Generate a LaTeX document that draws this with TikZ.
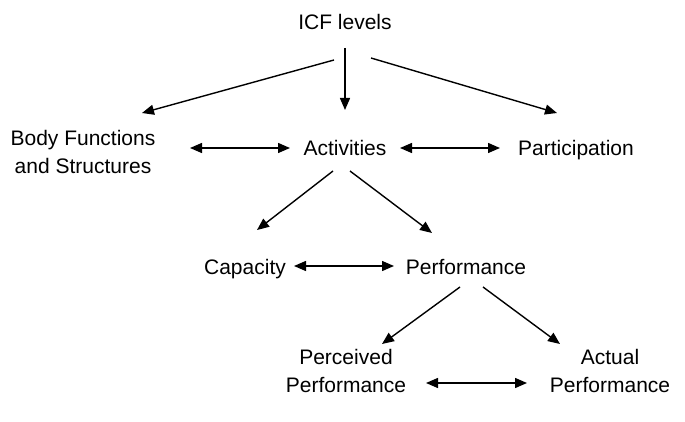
\documentclass[tikz,border=0pt]{standalone}
\usepackage{fontspec}
\setmainfont{Liberation Sans}
\usetikzlibrary{arrows.meta}
\begin{document}
\begin{tikzpicture}[x=1pt,y=-1pt,
  lbl/.style={inner sep=0pt,anchor=base,align=center,font=\fontsize{21}{28}\selectfont},
  arr/.style={-{Triangle[length=12pt,width=10pt]},line width=1.4pt},
  darr/.style={{Triangle[length=12pt,width=10pt]}-{Triangle[length=12pt,width=10pt]},line width=1.4pt}]
\useasboundingbox[fill=white] (0,0) rectangle (685,422);
\node[lbl] (icf) at (345,30) {ICF levels};
\node[lbl] (body) at (83,174) {Body Functions\\and Structures};
\node[lbl] (act) at (345,156) {Activities};
\node[lbl] (part) at (576,156) {Participation};
\node[lbl] (cap) at (245,274) {Capacity};
\node[lbl] (perf) at (466,274) {Performance};
\node[lbl] (perc) at (346,392) {Perceived\\Performance};
\node[lbl] (actual) at (610,392) {Actual\\Performance};
\draw[arr] ([shift={(-11,30)}]icf.base) -- ([shift={(59,-61)}]body.base);
\draw[arr] ([shift={(0,18)}]icf.base) -- ([shift={(0,-46)}]act.base);
\draw[arr] ([shift={(26,28)}]icf.base) -- ([shift={(-19,-43)}]part.base);
\draw[darr] ([shift={(107,-26)}]body.base) -- ([shift={(-55,-8)}]act.base);
\draw[darr] ([shift={(55,-8)}]act.base) -- ([shift={(-76,-8)}]part.base);
\draw[arr] ([shift={(-12,15)}]act.base) -- ([shift={(12,-44)}]cap.base);
\draw[arr] ([shift={(5,15)}]act.base) -- ([shift={(-34,-41)}]perf.base);
\draw[darr] ([shift={(49,-8)}]cap.base) -- ([shift={(-72,-8)}]perf.base);
\draw[arr] ([shift={(-6,13)}]perf.base) -- ([shift={(36,-48)}]perc.base);
\draw[arr] ([shift={(17,13)}]perf.base) -- ([shift={(-50,-48)}]actual.base);
\draw[darr] ([shift={(80,-9)}]perc.base) -- ([shift={(-83,-9)}]actual.base);
\end{tikzpicture}
\end{document}
